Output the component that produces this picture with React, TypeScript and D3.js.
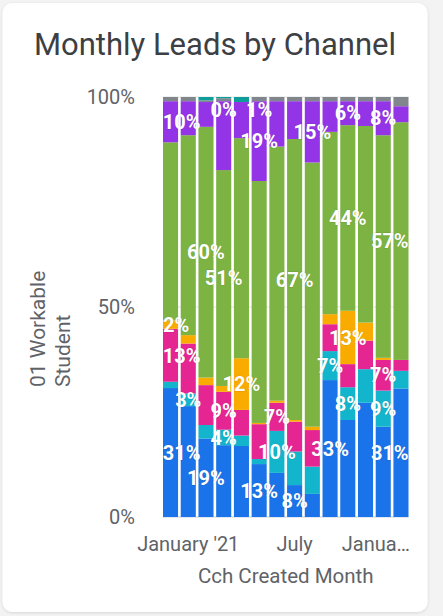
import React from "react";
import * as d3 from "d3";

// ---- data ----
const months = ["2020-12", "2021-01", "2021-02", "2021-03", "2021-04", "2021-05", "2021-06", "2021-07", "2021-08", "2021-09", "2021-10", "2021-11", "2021-12", "2022-01"];
const tickMonths = ["2021-01", "2021-07", "2022-01"];
const tickLabels = ["January '21", "July", "Janua…"];
const yTicks = [0, 0.5, 1];
const yTickLabels = ["0%", "50%", "100%"];

const seriesKeys = ["blue", "teal", "pink", "orange", "green", "purple", "gray", "darkTeal"];
const seriesColors = ["#1a73e8", "#12b5cb", "#e52592", "#f9ab00", "#7cb342", "#9334e6", "#80868b", "#0f9d9a"];

const blue = [30.7, 26.4, 18.7, 17.1, 16.9, 12.6, 10.5, 7.6, 5.5, 32.6, 23.1, 27.2, 21.5, 30.6];
const teal = [1.5, 3, 3.2, 3.7, 2.5, 1.2, 10, 8, 6.5, 6.9, 7.8, 8, 8.6, 4.2];
const pink = [12.6, 11.9, 9.5, 9, 6.1, 8.3, 6.7, 7.1, 8.7, 6.4, 5.5, 6.8, 7.3, 2.6];
const orange = [2, 2, 1.8, 1.4, 12.3, 0.3, 0.5, 0.4, 0.8, 2.4, 12.7, 4.3, 0.5, 0];
const green = [42.4, 47.6, 59.7, 51.4, 52.4, 57.6, 60.5, 66.9, 62.9, 43.4, 44.2, 46.8, 53, 56.6];
const purple = [9.8, 8.1, 5.9, 16.4, 8.6, 19, 10.8, 9, 14.6, 7.3, 5.7, 5.9, 8.1, 3.8];
const gray = [1, 1, 0.4, 0.7, 0, 1, 1, 1, 1, 1, 1, 1, 1, 2.2];
const darkTeal = [0, 0, 0.8, 0.3, 1.2, 0, 0, 0, 0, 0, 0, 0, 0, 0];

// which value labels are visible: [month index, series key]
const labelBars = [0, 3, 5, 5, 2, 3, 7, 8, 10, 12, 10, 13, 0, 0, 1, 0, 2, 3, 3, 4, 5, 6, 6, 7, 9, 9, 10, 10, 12, 12, 13];
const labelSeries = ["purple", "darkTeal", "gray", "purple", "green", "green", "green", "purple", "purple", "purple", "green", "green",
  "orange", "pink", "teal", "blue", "blue", "pink", "teal", "orange", "blue", "pink", "teal", "blue", "blue", "teal", "orange", "teal", "pink", "teal", "blue"];

const W = 443, H = 616;
const M = { left: 163, right: 408.5, top: 97, bottom: 517 };
const FONT = "Roboto, 'Noto Sans', sans-serif";

export default function App() {
  const seriesData: Record<string, number[]> = { blue, teal, pink, orange, green, purple, gray, darkTeal };
  const rows = months.map((m, i) => {
    const r: any = { month: m };
    seriesKeys.forEach((k) => (r[k] = seriesData[k][i]));
    return r;
  });
  const stacked = d3.stack<any>().keys(seriesKeys).offset(d3.stackOffsetExpand)(rows);

  const x = d3.scaleBand<string>().domain(months).range([M.left, M.right]).paddingInner(0.15).paddingOuter(0);
  const y = d3.scaleLinear().domain([0, 1]).range([M.bottom, M.top]);
  const color = d3.scaleOrdinal<string, string>().domain(seriesKeys).range(seriesColors);
  const fmt = d3.format(".0%");

  const labels = labelBars.map((bi, j) => {
    const key = labelSeries[j];
    const s = stacked[seriesKeys.indexOf(key)][bi];
    const v = s[1] - s[0];
    const text = fmt(v);
    const w = (text.length - 1) * 11.2 + 15;
    const cx = x(months[bi])! + x.bandwidth() / 2;
    const lx = Math.max(M.left + w / 2, Math.min(M.right - w / 2, cx));
    const cy = (y(s[0]) + y(s[1])) / 2;
    const ly = Math.max(M.top + 13, Math.min(M.bottom - 13, cy));
    return { text, lx, ly, key: j };
  });

  return (
    <svg width={W} height={H} style={{ position: "absolute", left: 0, top: 0 }} fontFamily={FONT}>
      <defs>
        <filter id="shadow" x="-5%" y="-5%" width="110%" height="110%">
          <feDropShadow dx="0" dy="1" stdDeviation="1.5" floodColor="#000" floodOpacity="0.12" />
        </filter>
      </defs>
      <rect x={0} y={0} width={W} height={H} fill="#f3f3f3" />
      <rect x={2.5} y={3} width={425} height={609} rx={10} fill="#fff" filter="url(#shadow)" />
      <text x={215} y={55} textAnchor="middle" fontSize={31} fill="#3c4043">Monthly Leads by Channel</text>

      {/* gridlines */}
      {yTicks.map((t, i) => (
        <line key={i} x1={M.left} x2={M.right} y1={y(t)} y2={y(t)} stroke={t === 0 ? "#c9cde0" : "#e3e3e3"} strokeWidth={1} />
      ))}
      {yTicks.map((t, i) => (
        <text key={i} x={135} y={y(t)} dy="0.35em" textAnchor="end" fontSize={20} fill="#5f6368">{yTickLabels[i]}</text>
      ))}

      {/* bars */}
      {stacked.map((layer) => (
        <g key={layer.key} fill={color(layer.key)}>
          {layer.map((d, i) => (
            <rect key={i} x={x(months[i])} width={x.bandwidth()} y={y(d[1])} height={Math.max(0, y(d[0]) - y(d[1]))} />
          ))}
        </g>
      ))}

      {/* value labels */}
      {labels.map((l) => (
        <text key={l.key} x={l.lx} y={l.ly} dy="0.36em" textAnchor="middle" fontSize={20} fontWeight={700} fill="#fff"
          stroke="rgba(0,0,0,0.12)" strokeWidth={1} paintOrder="stroke">{l.text}</text>
      ))}

      {/* x axis labels */}
      {tickMonths.map((m, i) => {
        const cx = x(m)! + x.bandwidth() / 2;
        const last = i === tickMonths.length - 1;
        return (
          <text key={m} x={last ? 410 : cx} y={551} textAnchor={last ? "end" : "middle"} fontSize={20} fill="#5f6368">{tickLabels[i]}</text>
        );
      })}
      <text x={(M.left + M.right) / 2} y={583} textAnchor="middle" fontSize={20.5} fill="#5f6368">Cch Created Month</text>

      {/* y axis title */}
      <text transform="translate(45,387) rotate(-90)" fontSize={21} fill="#5f6368">
        <tspan x={0} y={0}>01 Workable</tspan>
        <tspan x={0} y={25}>Student</tspan>
      </text>
    </svg>
  );
}
